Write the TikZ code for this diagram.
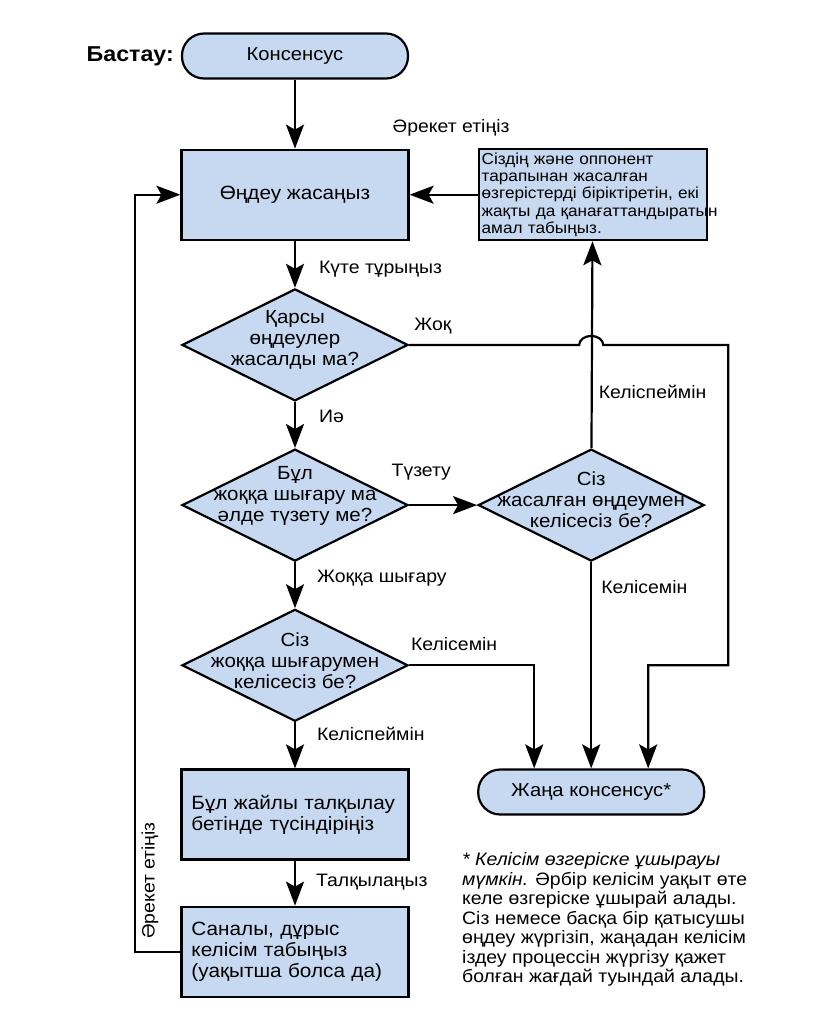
\documentclass[tikz,border=0pt]{standalone}
\usepackage{fontspec}
\setmainfont{Liberation Sans}[FakeStretch=1.08]
\usetikzlibrary{arrows.meta,positioning,shapes.geometric,calc}

\definecolor{boxblue}{RGB}{198,217,240}

\begin{document}
\begin{tikzpicture}[x=1pt, y=1pt, line width=2.2pt,
    >={Stealth[length=24pt,width=18pt,inset=5pt]},
    lbl/.style={font=\fontsize{18}{20}\selectfont, inner sep=0pt},
    term/.style={draw, fill=boxblue, rounded corners=22pt, minimum width=226pt,
      minimum height=45pt, font=\fontsize{18.7}{21}\selectfont},
    box/.style={draw, fill=boxblue, minimum width=227pt, minimum height=90pt,
      font=\fontsize{19.2}{21}\selectfont},
    dia/.style={draw, fill=boxblue, diamond, minimum width=226pt,
      minimum height=112pt, inner sep=0pt},
    dtext/.style={align=center, yshift=5pt, font=\fontsize{19}{21}\selectfont}]
  \useasboundingbox (-295,56) rectangle (545,-967);

  % main column
  \node[term] (start) {Консенсус};
  \node[left=6pt of start, inner sep=0pt,
    font=\bfseries\fontsize{21.5}{23}\selectfont] (bastau) {Бастау:};
  \node[box, below=69pt of start] (edit) {Өңдеу жасаңыз};
  \node[dia, below=47pt of edit,
    label={[dtext]center:{Қарсы\\өңдеулер\\жасалды ма?}}] (q1) {};
  \node[dia, below=46pt of q1,
    label={[dtext, yshift=4pt]center:{Бұл\\жоққа шығару ма\\әлде түзету ме?}}] (q2) {};
  \node[dia, below=46pt of q2,
    label={[dtext]center:{Сіз\\жоққа шығарумен\\келісесіз бе?}}] (q4) {};
  \node[box, below=46pt of q4, text width=207pt, inner xsep=10pt, align=left]
    (talk) {\mbox{Бұл жайлы талқылау}\\\mbox{бетінде түсіндіріңіз}};
  \node[box, below=45pt of talk, text width=207pt, inner xsep=10pt, align=left]
    (find) {Саналы, дұрыс\\келісім табыңыз\\(уақытша болса да)};

  % right column
  \node[box, right=68pt of edit, minimum width=228pt, minimum height=91pt,
    text width=222pt, inner sep=3pt, align=left,
    font=\fontsize{15.9}{17.3}\selectfont] (comp)
    {Сіздің және оппонент\\тарапынан жасалған\\\mbox{өзгерістерді біріктіретін, екі}\\\mbox{жақты да қанағаттандыратын}\\амал табыңыз.};
  \node[dia, right=68pt of q2,
    label={[dtext]center:{Сіз\\жасалған өңдеумен\\келісесіз бе?}}] (q3) {};
  \node[term, anchor=north] (newc) at (q3 |- talk.north) {Жаңа консенсус*};
  \node[anchor=north west, inner sep=0pt, align=left,
    font=\fontsize{18}{19.5}\selectfont] (note)
    at ([xshift=-16pt,yshift=-36pt]newc.south west)
    {\textit{* Келісім өзгеріске ұшырауы}\\
     \textit{мүмкін.} Әрбір келісім уақыт өте\\
     келе өзгеріске ұшырай алады.\\
     Сіз немесе басқа бір қатысушы\\
     өңдеу жүргізіп, жаңадан келісім\\
     іздеу процессін жүргізу қажет\\
     болған жағдай туындай алады.};

  \coordinate (rt) at ([xshift=23pt]q3.east);
  \coordinate (nl) at ([xshift=-57pt]newc.north);
  \coordinate (nr) at ([xshift=57pt]newc.north);

  % connectors
  \draw[->] (start) -- (edit);
  \node[lbl, anchor=south west] (act) at ([xshift=-18pt,yshift=11pt]edit.north east) {Әрекет етіңіз};
  \draw[->] (comp) -- (edit);
  \draw[->] (edit) -- node[lbl, right=23pt, pos=0.6] {Күте тұрыңыз} (q1);
  \draw[->] (q1.east) -- node[lbl, above=10pt, pos=0.14] {Жоқ}
    ([xshift=-12pt]q3.north |- q1.east)
    arc[start angle=180, end angle=0, x radius=12pt, y radius=9pt]
    -- (rt |- q1.east) -- (rt |- q4.east) -- (nr |- q4.east) -- (nr);
  \draw[->] (q1) -- node[lbl, right=23pt, pos=0.32] {Иә} (q2);
  \draw[->] (q2) -- node[lbl, above=24pt, pos=0.18] {Түзету} (q3);
  \draw[->] (q3) -- node[lbl, right=6pt, pos=0.27] {Келіспеймін} (comp);
  \draw[->] (q3) -- node[lbl, right=9pt, pos=0.12] {Келісемін} (newc);
  \draw[->] (q2) -- node[lbl, right=21pt, pos=0.35] {Жоққа шығару} (q4);
  \draw[->] (q4.east) -- node[lbl, above=14pt, pos=0.36] {Келісемін} (nl |- q4.east) -- (nl);
  \draw[->] (q4) -- node[lbl, right=21pt, pos=0.26] {Келіспеймін} (talk);
  \draw[->] (talk) -- node[lbl, right=20pt, pos=0.47] {Талқылаңыз} (find);
  \draw[->] (find.west) -- ++(-45pt,0) |- node[lbl, rotate=90, anchor=north,
    inner sep=5pt, pos=0.047] {Әрекет етіңіз} (edit.west);
\end{tikzpicture}
\end{document}
